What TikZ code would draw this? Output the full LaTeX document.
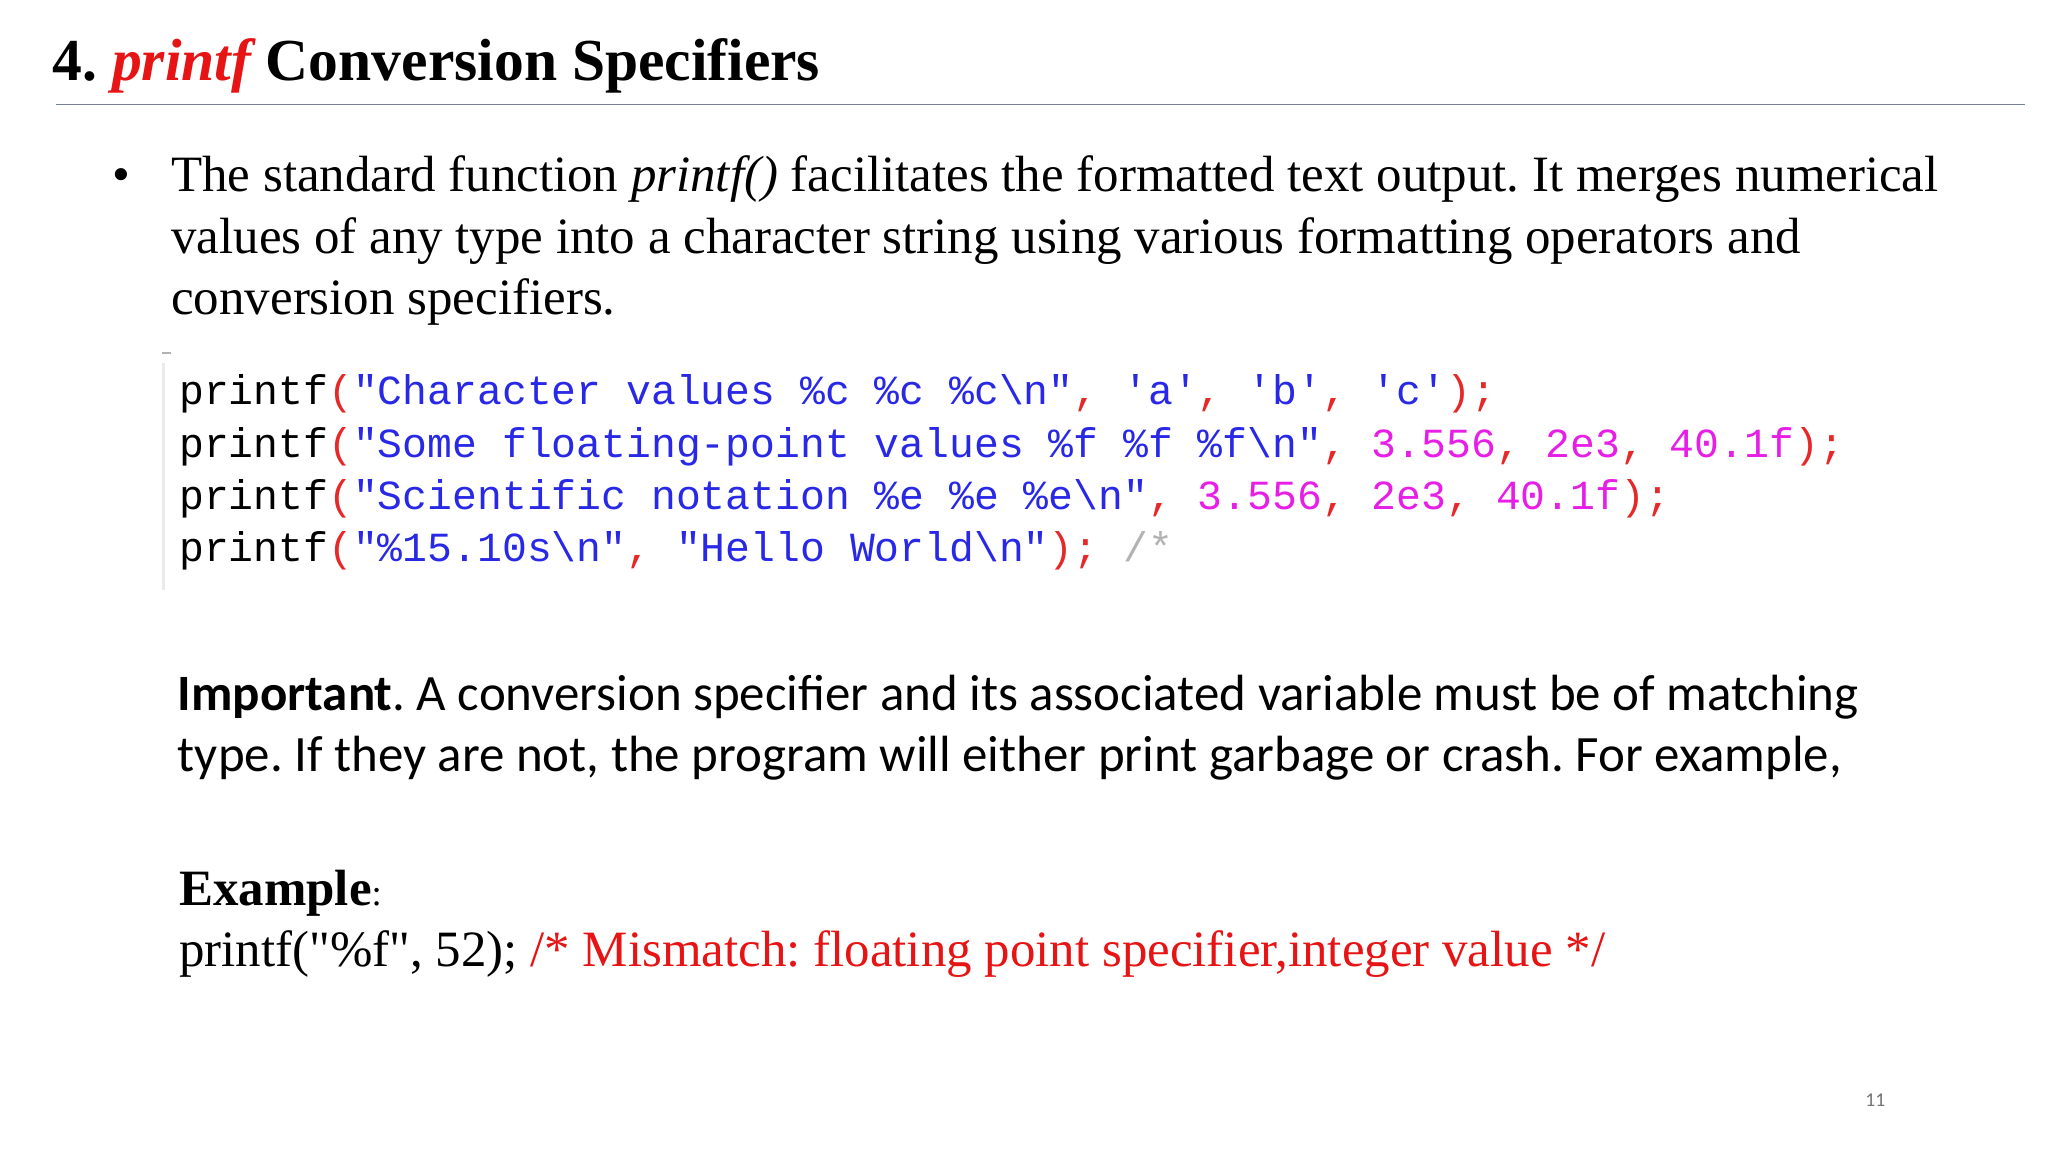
\documentclass[tikz,border=0pt]{standalone}
\usepackage{fontspec}
\setmainfont{Liberation Serif}
\newfontfamily\rawserif{Liberation Serif}
\newfontfamily\codefont{Liberation Mono}
\newfontfamily\calfont{Carlito}
\definecolor{titlered}{RGB}{230,20,20}
\definecolor{cblue}{RGB}{40,40,230}
\definecolor{cmag}{RGB}{230,30,230}
\definecolor{cred}{RGB}{230,40,40}
\definecolor{rulecol}{RGB}{120,130,150}
\frenchspacing
\begin{document}
\begin{tikzpicture}[x=1pt,y=1pt,
  txt/.style={anchor=base west,inner sep=0pt,font=\fontsize{39}{47}\selectfont},
  code/.style={anchor=base west,inner sep=0pt,font=\fontsize{31.7}{40}\codefont}]
\useasboundingbox (0,0) rectangle (1568,-882);
\fill[white] (0,0) rectangle (1568,-882);
\node[anchor=base west,inner sep=0pt,font=\fontsize{45.6}{50}\selectfont\bfseries] (title) at (40,-62)
  {4. \textcolor{titlered}{\itshape printf} Conversion Specifiers};
\draw[rulecol,line width=1.2pt] (43,-80) -- (1550,-80);
\node[txt] (bul) at (86,-147) {•};
\node[txt] (l1) at (131,-147) {The standard function \textit{printf()} facilitates the formatted text output. It merges numerical};
\node[txt] (l2) at (131,-194) {values of any type into a character string using various formatting operators and};
\node[txt] (l3) at (131,-241) {conversion specifiers.};
\draw[black!30,line width=1.5pt] (124,-270) -- (131,-270);
\draw[black!8,line width=2pt] (125,-278) -- (125,-452);
\node[code] (c1) at (137,-310) {printf\textcolor{cred}{(}\textcolor{cblue}{"Character values \%c \%c \%c\textbackslash n"}\textcolor{cred}{,} \textcolor{cblue}{'a'}\textcolor{cred}{,} \textcolor{cblue}{'b'}\textcolor{cred}{,} \textcolor{cblue}{'c'}\textcolor{cred}{);}};
\node[code] (c2) at (137,-350) {printf\textcolor{cred}{(}\textcolor{cblue}{"Some floating-point values \%f \%f \%f\textbackslash n"}\textcolor{cred}{,} \textcolor{cmag}{3.556}\textcolor{cred}{,} \textcolor{cmag}{2e3}\textcolor{cred}{,} \textcolor{cmag}{40.1f}\textcolor{cred}{);}};
\node[code] (c3) at (137,-390) {printf\textcolor{cred}{(}\textcolor{cblue}{"Scientific notation \%e \%e \%e\textbackslash n"}\textcolor{cred}{,} \textcolor{cmag}{3.556}\textcolor{cred}{,} \textcolor{cmag}{2e3}\textcolor{cred}{,} \textcolor{cmag}{40.1f}\textcolor{cred}{);}};
\node[code] (c4) at (137,-430) {printf\textcolor{cred}{(}\textcolor{cblue}{"\%15.10s\textbackslash n"}\textcolor{cred}{,} \textcolor{cblue}{"Hello World\textbackslash n"}\textcolor{cred}{);} \textcolor{black!30}{/*}};
\node[anchor=base west,inner sep=0pt,font=\fontsize{39}{47}\calfont] (i1) at (136,-544) {\textbf{Important}. A conversion specifier and its associated variable must be of matching};
\node[anchor=base west,inner sep=0pt,font=\fontsize{39}{47}\calfont] (i2) at (136,-591) {type. If they are not, the program will either print garbage or crash. For example,};
\node[txt] (ex) at (137,-693) {\textbf{Example}{\fontsize{28}{30}\selectfont:}};
\node[txt] (ex2) at (137,-740) {printf({\rawserif"}\%f{\rawserif"}, 52); \textcolor{titlered}{/* Mismatch: floating point specifier,integer value */}};
\node[anchor=base west,inner sep=0pt,font=\fontsize{15}{18}\calfont,text=black!55] (pg) at (1428,-847) {11};
\end{tikzpicture}
\end{document}
